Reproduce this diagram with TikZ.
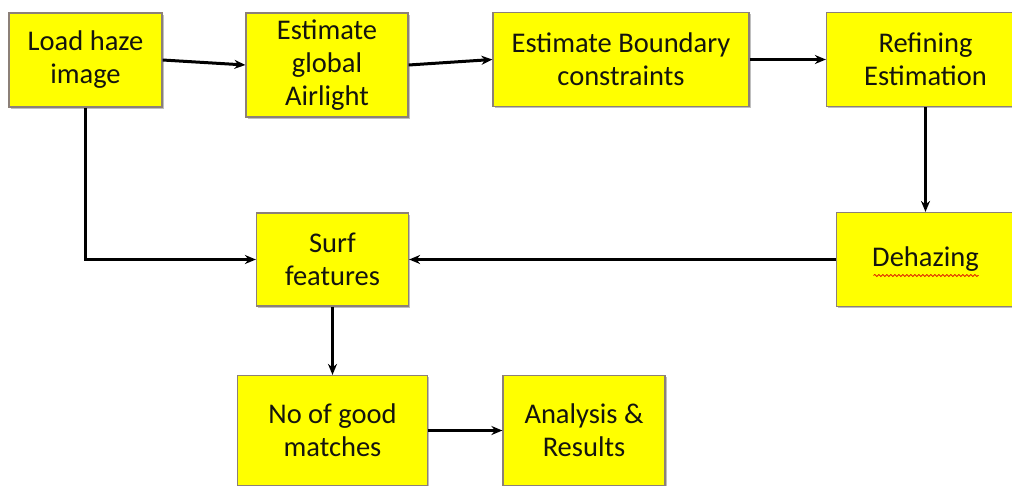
\documentclass[tikz,border=0pt]{standalone}
\usepackage{fontspec}
\setmainfont{Carlito}
\usetikzlibrary{arrows.meta,shadows,calc,decorations.pathmorphing}
\definecolor{boxyellow}{RGB}{255,255,0}
\definecolor{boxborder}{RGB}{140,128,120}
\definecolor{txt}{RGB}{20,20,15}
\tikzset{
  fbox/.style={rectangle, draw=boxborder, line width=1.2pt, fill=boxyellow,
    align=center, inner sep=0pt, text=txt,
    font=\fontsize{28.5}{33}\selectfont,
    drop shadow={shadow xshift=1.8pt, shadow yshift=-1.8pt, opacity=0.25, fill=black}},
  arr/.style={line width=3pt, -{Stealth[length=11pt,width=9pt]}},
}
\begin{document}
\begin{tikzpicture}[x=1pt,y=-1pt]
\fill[white] (0,0) rectangle (1012,485);
\begin{scope}
\clip (0,0) rectangle (1012,485);
\node[fbox, minimum width=153pt, minimum height=94pt] (b1) at (85.5,60) {Load haze\\image};
\node[fbox, minimum width=162pt, minimum height=104pt] (b2) at (327,65) {Estimate\\global\\Airlight};
\node[fbox, minimum width=256pt, minimum height=94pt] (b3) at (621,59.5) {Estimate Boundary\\constraints};
\node[fbox, minimum width=198pt, minimum height=94pt] (b4) at (925.5,59.5) {Refining\\Estimation};
\node[fbox, minimum width=178pt, minimum height=94pt] (b5) at (925.5,259.5) {Dehazing};
\node[fbox, minimum width=152pt, minimum height=93pt] (b6) at (332.5,259.5) {Surf\\features};
\node[fbox, minimum width=190pt, minimum height=110pt] (b7) at (332.5,430.5) {No of good\\matches};
\node[fbox, minimum width=162pt, minimum height=110pt] (b8) at (584,430.5) {Analysis \&\\Results};
\end{scope}
\draw[red!85!black, line width=0.7pt, decorate, decoration={snake, amplitude=1pt, segment length=4pt}]
  ($(b5.center)+(-52,16)$) -- ($(b5.center)+(53,16)$);
\draw[arr] (b1.east) -- (b2.west);
\draw[arr] (b2.east) -- (b3.west);
\draw[arr] (b3.east) -- (b4.west);
\draw[arr] (b4.south) -- (b5.north);
\draw[arr] (b5.west) -- (b6.east);
\draw[arr] (b1.south) -- (b1.south |- b6.west) -- (b6.west);
\draw[arr] (b6.south) -- (b7.north);
\draw[arr] (b7.east) -- (b8.west);
\useasboundingbox (0,0) rectangle (1012,485);
\end{tikzpicture}
\end{document}
